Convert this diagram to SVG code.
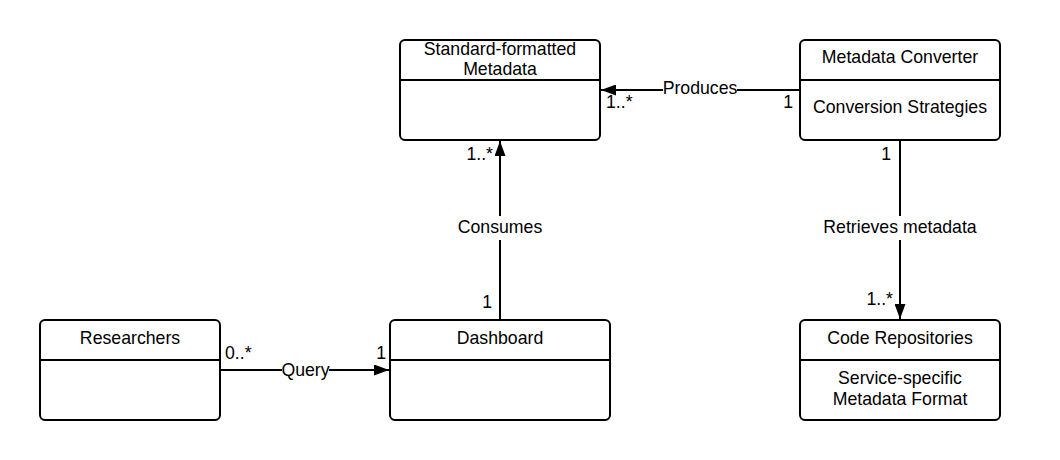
<svg xmlns="http://www.w3.org/2000/svg" width="1060" height="460" viewBox="0 0 1060 460">
<defs>
<marker id="arr" markerWidth="15" markerHeight="11" refX="15" refY="5.5" orient="auto" markerUnits="userSpaceOnUse">
<path d="M0,0 L15,5.5 L0,11 Z" fill="#000"/>
</marker>
<style>
.box{fill:#fff;stroke:#000;stroke-width:2}
.div{stroke:#000;stroke-width:2}
.t{font-family:"Liberation Sans",Arial,sans-serif;font-size:17.7px;fill:#000}
.c{text-anchor:middle}
.e{text-anchor:end}
.con{stroke:#000;stroke-width:2;fill:none}
.lbl{fill:#fff}
</style>
</defs>
<rect width="1060" height="460" fill="#fff"/>
<g id="connectors">
<line class="con" x1="800" y1="90" x2="601" y2="90" marker-end="url(#arr)"/>
<line class="con" x1="500" y1="320" x2="500" y2="141" marker-end="url(#arr)"/>
<line class="con" x1="900" y1="140" x2="900" y2="319" marker-end="url(#arr)"/>
<line class="con" x1="220" y1="370" x2="389" y2="370" marker-end="url(#arr)"/>
<rect class="lbl" x="663" y="80" width="74" height="20"/>
<text class="t c" x="700" y="94">Produces</text>
<text class="t" x="606" y="108">1..*</text>
<text class="t e" x="793" y="108">1</text>
<rect class="lbl" x="456" y="216" width="88" height="24"/>
<text class="t c" x="500" y="233">Consumes</text>
<text class="t e" x="493" y="160">1..*</text>
<text class="t e" x="492" y="308">1</text>
<rect class="lbl" x="822" y="216" width="156" height="24"/>
<text class="t c" x="900" y="233">Retrieves metadata</text>
<text class="t e" x="891" y="160">1</text>
<text class="t e" x="893" y="305">1..*</text>
<rect class="lbl" x="282" y="360" width="47" height="20"/>
<text class="t c" x="305.5" y="376">Query</text>
<text class="t" x="225" y="359">0..*</text>
<text class="t e" x="386" y="359">1</text>
</g>
<g id="standard-metadata">
<rect class="box" x="400" y="40" width="200" height="100" rx="5"/>
<line class="div" x1="400" y1="80" x2="600" y2="80"/>
<text class="t c" x="500" y="55">Standard-formatted</text>
<text class="t c" x="500" y="75">Metadata</text>
</g>
<g id="metadata-converter">
<rect class="box" x="800" y="40" width="200" height="100" rx="5"/>
<line class="div" x1="800" y1="80" x2="1000" y2="80"/>
<text class="t c" x="900" y="63">Metadata Converter</text>
<text class="t c" x="900" y="113">Conversion Strategies</text>
</g>
<g id="researchers">
<rect class="box" x="40" y="320" width="180" height="100" rx="5"/>
<line class="div" x1="40" y1="360" x2="220" y2="360"/>
<text class="t c" x="130" y="344">Researchers</text>
</g>
<g id="dashboard">
<rect class="box" x="390" y="320" width="220" height="100" rx="5"/>
<line class="div" x1="390" y1="360" x2="610" y2="360"/>
<text class="t c" x="500" y="344">Dashboard</text>
</g>
<g id="code-repositories">
<rect class="box" x="800" y="320" width="200" height="100" rx="5"/>
<line class="div" x1="800" y1="360" x2="1000" y2="360"/>
<text class="t c" x="900" y="344">Code Repositories</text>
<text class="t c" x="900" y="384">Service-specific</text>
<text class="t c" x="900" y="405">Metadata Format</text>
</g>
</svg>
